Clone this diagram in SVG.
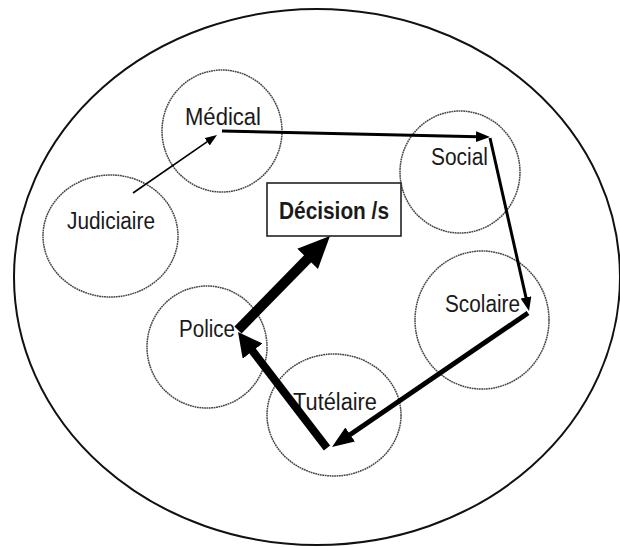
<svg xmlns="http://www.w3.org/2000/svg" width="620" height="547" viewBox="0 0 620 547">
<style>
.bg{fill:#fff}
.outer{fill:none;stroke:#111;stroke-width:2}
.c{fill:none;stroke:#444;stroke-width:1.5;stroke-dasharray:1.8 0.6}
.t{font-family:"Liberation Sans",Arial,sans-serif;font-size:23px;fill:#1a1a1a}
.b{font-weight:bold}
.box{fill:#fff;stroke:#222;stroke-width:1.6}
.a{stroke:#000;fill:none;stroke-linecap:butt}
</style>
<defs>
<marker id="hS" markerUnits="userSpaceOnUse" markerWidth="14" markerHeight="10" refX="2" refY="4.5" orient="auto"><path d="M0,0 L12,4.5 L0,9 Z" fill="#000"/></marker>
<marker id="hM" markerUnits="userSpaceOnUse" markerWidth="16" markerHeight="12" refX="2" refY="5.5" orient="auto"><path d="M0,0 L14,5.5 L0,11 Z" fill="#000"/></marker>
<marker id="hL" markerUnits="userSpaceOnUse" markerWidth="24" markerHeight="18" refX="2" refY="8.5" orient="auto"><path d="M0,0 L22,8.5 L0,17 Z" fill="#000"/></marker>
<marker id="hXL" markerUnits="userSpaceOnUse" markerWidth="26" markerHeight="26" refX="2" refY="12.5" orient="auto"><path d="M0,0 L24,12.5 L0,25 Z" fill="#000"/></marker>
<marker id="hXXL" markerUnits="userSpaceOnUse" markerWidth="34" markerHeight="30" refX="2" refY="14.5" orient="auto"><path d="M0,0 L32,14.5 L0,29 Z" fill="#000"/></marker>
</defs>
<rect class="bg" width="620" height="547"/>
<ellipse class="outer" cx="317" cy="277" rx="303" ry="268"/>
<g id="medical"><ellipse class="c" cx="222" cy="131" rx="60" ry="61"/><text class="t" x="185" y="125" textLength="76" lengthAdjust="spacingAndGlyphs">Médical</text></g>
<g id="judiciaire"><ellipse class="c" cx="110.5" cy="236" rx="67.5" ry="61"/><text class="t" x="67" y="229" textLength="88" lengthAdjust="spacingAndGlyphs">Judiciaire</text></g>
<g id="social"><ellipse class="c" cx="460" cy="172" rx="60" ry="61"/><text class="t" x="431" y="165" textLength="57" lengthAdjust="spacingAndGlyphs">Social</text></g>
<g id="scolaire"><ellipse class="c" cx="482" cy="320" rx="67" ry="69"/><text class="t" x="445" y="312" textLength="75" lengthAdjust="spacingAndGlyphs">Scolaire</text></g>
<g id="police"><ellipse class="c" cx="207" cy="347" rx="60" ry="61"/><text class="t" x="179" y="337" textLength="56" lengthAdjust="spacingAndGlyphs">Police</text></g>
<g id="tutelaire"><ellipse class="c" cx="334" cy="415" rx="67" ry="61"/><text class="t" x="293" y="410" textLength="84" lengthAdjust="spacingAndGlyphs">Tutélaire</text></g>
<g id="decision"><rect class="box" x="267" y="183" width="134" height="53"/><text class="t b" x="279" y="219" textLength="110" lengthAdjust="spacingAndGlyphs">Décision /s</text></g>
<g id="connectors">
<line class="a" x1="133" y1="193" x2="208.8" y2="140.7" stroke-width="1.6" marker-end="url(#hS)"/>
<line class="a" x1="222" y1="131" x2="478" y2="136.7" stroke-width="3" marker-end="url(#hM)"/>
<line class="a" x1="490" y1="138" x2="526.4" y2="299.3" stroke-width="3" marker-end="url(#hM)"/>
<line class="a" x1="528" y1="313" x2="348.5" y2="435.7" stroke-width="5" marker-end="url(#hL)"/>
<line class="a" x1="327" y1="448" x2="251.4" y2="349.5" stroke-width="8" marker-end="url(#hXL)"/>
<line class="a" x1="238" y1="330" x2="309" y2="257.4" stroke-width="10" marker-end="url(#hXXL)"/>
</g>
</svg>
